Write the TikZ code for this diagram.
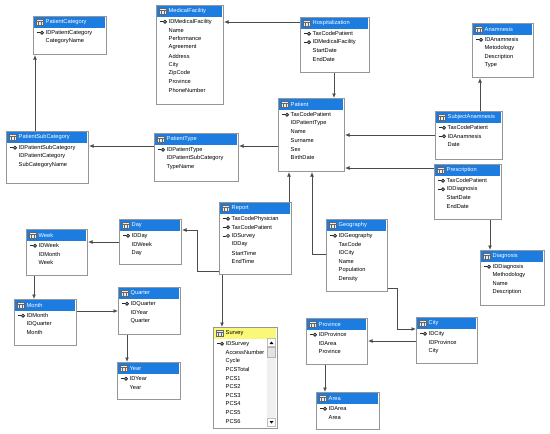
\documentclass[tikz,border=0pt]{standalone}
\usepackage{fontspec}
\setmainfont{Liberation Sans}
\usetikzlibrary{arrows.meta}
\definecolor{headblue}{RGB}{28,124,224}
\definecolor{survyellow}{RGB}{250,248,120}
\definecolor{linegray}{RGB}{75,75,75}
\definecolor{boxgray}{RGB}{150,150,150}
\newcommand{\tabfont}{\fontsize{5.7}{6}\selectfont}
\tikzset{
  tablebox/.style={draw=boxgray,fill=white,line width=1,inner sep=0},
  headfill/.style={fill=headblue},
  headtext/.style={font=\tabfont,text=white,inner sep=0},
  rowtext/.style={font=\tabfont,inner sep=0},
  keyline/.style={black!85,line width=.8},
  fk/.style={draw=linegray,line width=1,-{Latex[length=4.5pt,width=4pt]}}
}
% #1 name, #2 x, #3 y (top left, pixels), #4 width, #5 height, #6 title, #7 rows (k = key)
\newcommand{\dbtable}[7]{%
  \node[tablebox,minimum width=#4pt,minimum height=#5pt,anchor=north west] (#1) at (#2,#3) {};
  \fill[headfill] (#2+1,#3+1) rectangle (#2+#4-1,#3+11.5);
  \filldraw[fill=gray!15,draw=gray!80!black,line width=.3] (#2+3,#3+3) rectangle (#2+10.5,#3+9.5);
  \draw[gray!80!black,line width=.3] (#2+3,#3+5) -- (#2+10.5,#3+5)
     (#2+5.5,#3+5) -- (#2+5.5,#3+9.5) (#2+8,#3+5) -- (#2+8,#3+9.5);
  \node[headtext,anchor=west] (#1-title) at (#2+12.5,#3+6.3) {#6};
  \foreach \k/\r [count=\i] in {#7}{%
    \if k\k \draw[keyline] (#2+3.5,#3+8.1+8.6*\i) -- (#2+7.3,#3+8.1+8.6*\i);
      \draw[keyline] (#2+9,#3+8.1+8.6*\i) circle (1.5pt);\fi
    \node[rowtext,anchor=west] (#1-r\i) at (#2+12.5,#3+8.1+8.6*\i) {\r};
  }%
}

\begin{document}
\begin{tikzpicture}[x=1pt,y=-1pt]
  \useasboundingbox (0,0) rectangle (550,434);
  % tables
  \dbtable{PatCat}{33}{16}{73}{38}{PatientCategory}{k/IDPatientCategory,-/CategoryName}
  \dbtable{MedFac}{156}{5}{67}{99}{MedicalFacility}{k/IDMedicalFacility,-/Name,-/Performance,-/Agreement,-/Address,-/City,-/ZipCode,-/Province,-/PhoneNumber}
  \dbtable{Hosp}{300}{17}{69}{55}{Hospitalization}{k/TaxCodePatient,k/IDMedicalFacility,-/StartDate,-/EndDate}
  \dbtable{Patient}{278}{98}{66}{73}{Patient}{k/TaxCodePatient,-/IDPatientType,-/Name,-/Surname,-/Sex,-/BirthDate}
  \dbtable{Anam}{472}{23}{61}{54}{Anamnesis}{k/IDAnamnesis,-/Metodology,-/Description,-/Type}
  \dbtable{SubjAnam}{435}{111}{67}{48}{SubjectAnamnesis}{k/TaxCodePatient,k/IDAnamnesis,-/Date}
  \dbtable{Presc}{434}{164}{67}{55}{Prescription}{k/TaxCodePatient,k/IDDiagnosis,-/StartDate,-/EndDate}
  \dbtable{Diag}{480}{250}{64}{55}{Diagnosis}{k/IDDiagnosis,-/Methodology,-/Name,-/Description}
  \dbtable{PatSubCat}{6}{131}{82}{52}{PatientSubCategory}{k/IDPatientSubCategory,-/IDPatientCategory,-/SubCategoryName}
  \dbtable{PatType}{154}{133}{84}{48}{PatientType}{k/IDPatientType,-/IDPatientSubCategory,-/TypeName}
  \dbtable{Report}{219}{202}{72}{72}{Report}{k/TaxCodePhysician,k/TaxCodePatient,k/IDSurvey,-/IDDay,-/StartTime,-/EndTime}
  \dbtable{Geo}{326}{219}{61}{72}{Geography}{k/IDGeography,-/TaxCode,-/IDCity,-/Name,-/Population,-/Density}
  \dbtable{Day}{119}{219}{62}{45}{Day}{k/IDDay,-/IDWeek,-/Day}
  \dbtable{Week}{26}{229}{61}{46}{Week}{k/IDWeek,-/IDMonth,-/Week}
  \dbtable{Month}{14}{299}{62}{46}{Month}{k/IDMonth,-/IDQuarter,-/Month}
  \dbtable{Quarter}{118}{287}{62}{47}{Quarter}{k/IDQuarter,-/IDYear,-/Quarter}
  \dbtable{Year}{117}{362}{63}{37}{Year}{k/IDYear,-/Year}
  \dbtable{Prov}{306}{318}{61}{46}{Province}{k/IDProvince,-/IDArea,-/Province}
  \dbtable{City}{416}{317}{61}{46}{City}{k/IDCity,-/IDProvince,-/City}
  \dbtable{Area}{316}{392}{63}{37}{Area}{k/IDArea,-/Area}
  \begin{scope}[headfill/.style={fill=survyellow},headtext/.style={font=\tabfont,text=black,inner sep=0}]
  \dbtable{Survey}{213}{327}{64}{101}{Survey}{k/IDSurvey,-/AccessNumber,-/Cycle,-/PCSTotal,-/PCS1,-/PCS2,-/PCS3,-/PCS4,-/PCS5,-/PCS6}
  \end{scope}
  % scroll bar of Survey
  \fill[gray!12] (267,338) rectangle (276,427);
  \filldraw[fill=white,draw=gray!50,line width=.3] (267.5,338.5) rectangle (275.5,346.5)
     (267.5,418.5) rectangle (275.5,426.5);
  \filldraw[fill=gray!22,draw=gray!60,line width=.3] (267.5,347) rectangle (275.5,357);
  \fill (269.5,344) -- (273.5,344) -- (271.5,341.5) -- cycle;
  \fill (269.5,421) -- (273.5,421) -- (271.5,423.5) -- cycle;
  % references
  \draw[fk] (PatSubCat.north -| 35,0) -- (PatCat.south -| 35,0);
  \draw[fk] (Hosp.west |- 0,22) -- (MedFac.east |- 0,22);
  \draw[fk] (Hosp.south -| 334,0) -- (Patient.north -| 334,0);
  \draw[fk] (Patient.west |- 0,146) -- (PatType.east |- 0,146);
  \draw[fk] (PatType.west |- 0,146) -- (PatSubCat.east |- 0,146);
  \draw[fk] (SubjAnam.west |- 0,135) -- (Patient.east |- 0,135);
  \draw[fk] (SubjAnam.north -| 480,0) -- (Anam.south -| 480,0);
  \draw[fk] (Presc.west |- 0,168) -- (Patient.east |- 0,168);
  \draw[fk] (Presc.south -| 490,0) -- (Diag.north -| 490,0);
  \draw[fk] (Report.north -| 289,0) -- (Patient.south -| 289,0);
  \draw[fk] (Geo.west |- 0,254) -| (Patient.south -| 312,0);
  \draw[fk] (Report.west |- 0,271) -- ++(-22,0) |- (Day.east |- 0,230);
  \draw[fk] (Report.south -| 222,0) -- (Survey.north -| 222,0);
  \draw[fk] (Day.west |- 0,242) -- (Week.east |- 0,242);
  \draw[fk] (Week.south -| 34,0) -- (Month.north -| 34,0);
  \draw[fk] (Month.east |- 0,311) -- (Quarter.west |- 0,311);
  \draw[fk] (Quarter.south -| 127,0) -- (Year.north -| 127,0);
  \draw[fk] (Geo.east |- 0,288) -- ++(9,0) |- (City.west |- 0,329);
  \draw[fk] (City.west |- 0,341) -- (Prov.east |- 0,341);
  \draw[fk] (Prov.south -| 325,0) -- (Area.north -| 325,0);
\end{tikzpicture}
\end{document}
